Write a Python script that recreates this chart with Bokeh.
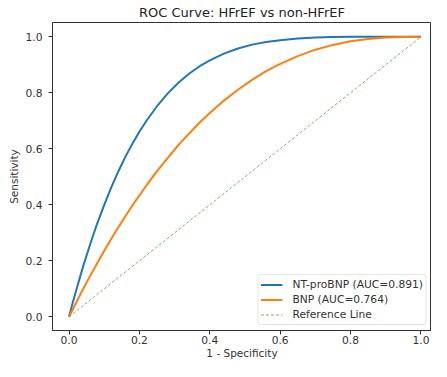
from bokeh.plotting import figure
from bokeh.models import Range1d, Legend, LegendItem, FixedTicker, PrintfTickFormatter
from bokeh.embed import file_html
from bokeh.resources import INLINE

# NT-proBNP ROC curve
ntprobnp_fpr = [0.0, 0.01, 0.02, 0.04, 0.06, 0.08, 0.10, 0.12, 0.14, 0.16, 0.18, 0.20, 0.22, 0.25, 0.28,
                0.31, 0.34, 0.37, 0.40, 0.44, 0.48, 0.52, 0.56, 0.60, 0.65, 0.70, 0.75, 0.80, 0.90, 1.0]
ntprobnp_tpr = [0.0, 0.048, 0.093, 0.180, 0.259, 0.333, 0.400, 0.462, 0.519, 0.571, 0.618, 0.661, 0.700, 0.752, 0.797,
                0.835, 0.867, 0.894, 0.916, 0.940, 0.958, 0.972, 0.981, 0.988, 0.994, 0.997, 0.999, 1.0, 1.0, 1.0]

# BNP ROC curve
bnp_fpr = [0.0, 0.02, 0.04, 0.06, 0.08, 0.10, 0.13, 0.16, 0.19, 0.22, 0.25, 0.28, 0.31, 0.34, 0.37,
           0.40, 0.44, 0.48, 0.52, 0.56, 0.60, 0.65, 0.70, 0.75, 0.80, 0.85, 0.90, 0.95, 1.0]
bnp_tpr = [0.0, 0.050, 0.099, 0.146, 0.191, 0.236, 0.299, 0.359, 0.416, 0.469, 0.520, 0.567, 0.612, 0.653, 0.692,
           0.728, 0.772, 0.811, 0.846, 0.877, 0.903, 0.931, 0.954, 0.971, 0.984, 0.992, 0.997, 0.9995, 1.0]

ref_x = [0.0, 1.0]
ref_y = [0.0, 1.0]

labels = ["NT-proBNP (AUC=0.891)", "BNP (AUC=0.764)", "Reference Line"]
ticks = [0.0, 0.2, 0.4, 0.6, 0.8, 1.0]

FONT = "DejaVu Sans"

p = figure(width=431, height=361, output_backend="svg", toolbar_location=None,
           x_range=Range1d(-0.047, 1.03), y_range=Range1d(-0.049, 1.051),
           min_border_left=52, min_border_right=0, min_border_top=0, min_border_bottom=0)

p.title.text = "ROC Curve: HFrEF vs non-HFrEF"
p.title.align = "center"
p.title.text_font = FONT
p.title.text_font_size = "13px"
p.title.text_font_style = "normal"
p.title.text_color = "#222222"
p.title.standoff = 5

p.xgrid.visible = False
p.ygrid.visible = False
p.outline_line_color = "#333333"
p.outline_line_width = 1

for ax in (p.xaxis[0], p.yaxis[0]):
    ax.ticker = FixedTicker(ticks=ticks)
    ax.formatter = PrintfTickFormatter(format="%.1f")
    ax.minor_tick_line_color = None
    ax.major_tick_in = 0
    ax.major_tick_out = 4
    ax.major_tick_line_color = "#333333"
    ax.axis_line_color = "#333333"
    ax.major_label_text_font = FONT
    ax.major_label_text_font_size = "10.7px"
    ax.major_label_text_color = "#333333"
    ax.axis_label_text_font = FONT
    ax.axis_label_text_font_size = "10.5px"
    ax.axis_label_text_font_style = "normal"
    ax.axis_label_text_color = "#333333"

p.xaxis.axis_label = "1 - Specificity"
p.yaxis.axis_label = "Sensitivity"
p.xaxis.major_label_standoff = 1
p.xaxis.axis_label_standoff = 0
p.yaxis.major_label_standoff = 6
p.yaxis.axis_label_standoff = 3

r1 = p.line(ntprobnp_fpr, ntprobnp_tpr, line_color="#1f77b4", line_width=2)
r2 = p.line(bnp_fpr, bnp_tpr, line_color="#ff7f0e", line_width=2)
r3 = p.line(ref_x, ref_y, line_color="#2ca02c", line_width=1, line_dash="3 2", line_alpha=0.7)

legend = Legend(items=[LegendItem(label=labels[0], renderers=[r1]),
                       LegendItem(label=labels[1], renderers=[r2]),
                       LegendItem(label=labels[2], renderers=[r3])],
                location="bottom_right")
legend.label_text_font = FONT
legend.label_text_font_size = "10.7px"
legend.label_text_color = "#333333"
legend.label_height = 15
legend.glyph_height = 15
legend.glyph_width = 22
legend.spacing = 0
legend.padding = 2
legend.margin = 5
legend.label_standoff = 10
legend.border_line_color = "#cccccc"
legend.border_line_width = 1
legend.border_radius = 3
legend.background_fill_alpha = 0.8
p.add_layout(legend)

open("out.html", "w").write(file_html(p, INLINE))
